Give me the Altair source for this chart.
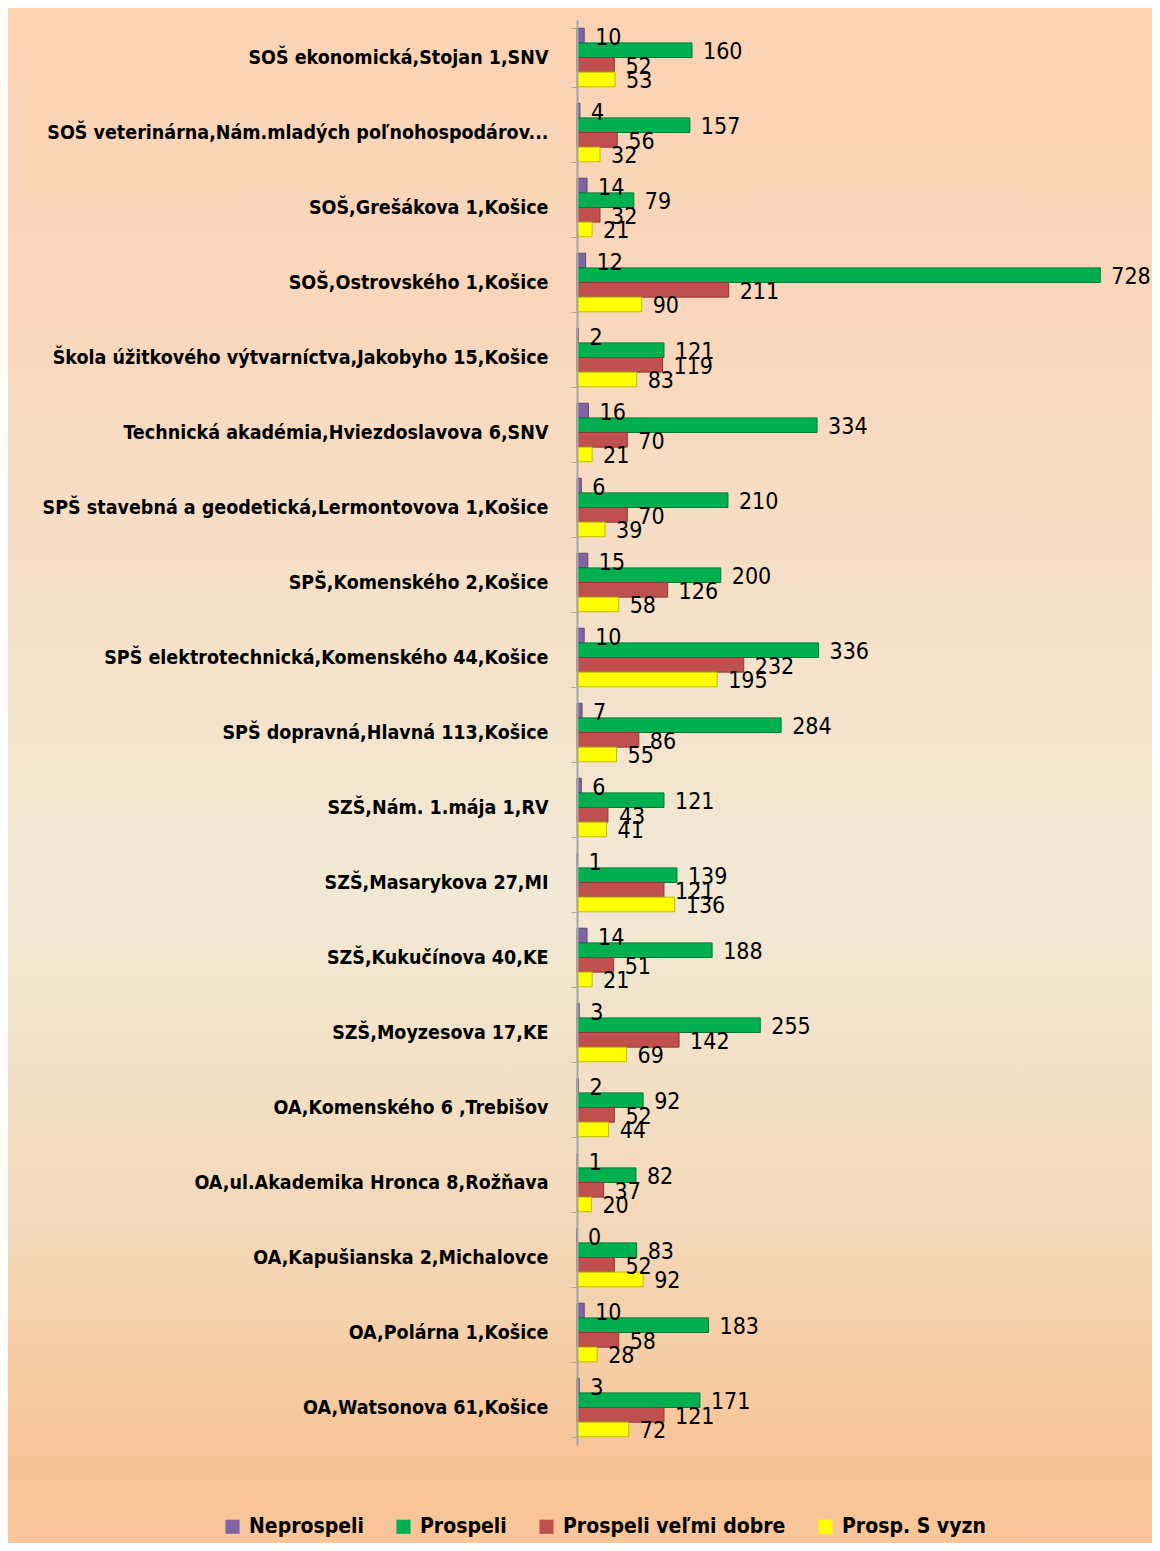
import altair as alt
import pandas as pd

categories = [
    "SOŠ ekonomická,Stojan 1,SNV",
    "SOŠ veterinárna,Nám.mladých poľnohospodárov...",
    "SOŠ,Grešákova 1,Košice",
    "SOŠ,Ostrovského 1,Košice",
    "Škola úžitkového výtvarníctva,Jakobyho 15,Košice",
    "Technická akadémia,Hviezdoslavova 6,SNV",
    "SPŠ stavebná a geodetická,Lermontovova 1,Košice",
    "SPŠ,Komenského 2,Košice",
    "SPŠ elektrotechnická,Komenského 44,Košice",
    "SPŠ dopravná,Hlavná 113,Košice",
    "SZŠ,Nám. 1.mája 1,RV",
    "SZŠ,Masarykova 27,MI",
    "SZŠ,Kukučínova 40,KE",
    "SZŠ,Moyzesova 17,KE",
    "OA,Komenského 6 ,Trebišov",
    "OA,ul.Akademika Hronca 8,Rožňava",
    "OA,Kapušianska 2,Michalovce",
    "OA,Polárna 1,Košice",
    "OA,Watsonova 61,Košice",
]
series = ["Neprospeli", "Prospeli", "Prospeli veľmi dobre", "Prosp. S vyzn"]
neprospeli = [10, 4, 14, 12, 2, 16, 6, 15, 10, 7, 6, 1, 14, 3, 2, 1, 0, 10, 3]
prospeli = [160, 157, 79, 728, 121, 334, 210, 200, 336, 284, 121, 139, 188, 255, 92, 82, 83, 183, 171]
velmi_dobre = [52, 56, 32, 211, 119, 70, 70, 126, 232, 86, 43, 121, 51, 142, 52, 37, 52, 58, 121]
s_vyzn = [53, 32, 21, 90, 83, 21, 39, 58, 195, 55, 41, 136, 21, 69, 44, 20, 92, 28, 72]

colors = ["#8064A2", "#00B050", "#C0504D", "#FFFF00"]
dark = ["#5F497A", "#007A37", "#8E3B39", "#BFBF00"]

rows = []
for i, cat in enumerate(categories):
    for s, vals in zip(series, [neprospeli, prospeli, velmi_dobre, s_vyzn]):
        rows.append({"skola": cat, "serie": s, "pocet": vals[i]})
df = pd.DataFrame(rows)

W = 575
H = 1425
PAD_L, PAD_T, PAD_B = 569, 12, 98
FONT = "'DejaVu Sans Condensed', 'Liberation Sans Narrow', sans-serif"

bg = alt.Chart(df).mark_rect(
    fill=alt.LinearGradient(
        gradient="linear", x1=0, x2=0, y1=0, y2=1,
        stops=[
            alt.GradientStop(offset=0.0, color="#FAD3B4"),
            alt.GradientStop(offset=0.18, color="#F9D6BA"),
            alt.GradientStop(offset=0.58, color="#F1E9D5"),
            alt.GradientStop(offset=0.80, color="#F3D8B8"),
            alt.GradientStop(offset=0.95, color="#F7C396"),
            alt.GradientStop(offset=1.0, color="#F8C69A"),
        ],
    )
).encode(
    x=alt.value(-PAD_L), x2=alt.value(W),
    y=alt.value(-PAD_T), y2=alt.value(H + PAD_B),
)

ysc = alt.Scale(paddingInner=0.22, paddingOuter=0.11)
xsc = alt.Scale(domain=[0, 800], nice=False, zero=True)

bars = alt.Chart(df).mark_bar(strokeWidth=1).encode(
    y=alt.Y("skola:N", sort=categories, scale=ysc,
            axis=alt.Axis(title=None, labelFont=FONT, labelFontSize=19.5, labelFontWeight="bold",
                          labelColor="#000000", labelPadding=23, labelLimit=700,
                          domainColor="#A6A6A6", domainWidth=2, tickColor="#A6A6A6",
                          tickSize=6, ticks=True, tickBand="extent", zindex=2)),
    x=alt.X("pocet:Q", scale=xsc, axis=None),
    yOffset=alt.YOffset("serie:N", sort=series),
    color=alt.Color("serie:N", sort=series, scale=alt.Scale(domain=series, range=colors),
                    legend=alt.Legend(title=None, orient="none", direction="horizontal",
                                      legendX=-355, legendY=1496, columns=4,
                                      symbolType="square", symbolSize=200, symbolStrokeWidth=0,
                                      labelFont=FONT, labelFontSize=21, labelFontWeight="bold",
                                      labelColor="#000000", labelOffset=6, columnPadding=29,
                                      labelLimit=400, padding=0, zindex=2)),
    stroke=alt.Stroke("serie:N", sort=series, scale=alt.Scale(domain=series, range=dark), legend=None),
)

labels = alt.Chart(df).mark_text(
    align="left", baseline="middle", dx=11, dy=2, font=FONT, fontSize=23, color="#000000"
).encode(
    y=alt.Y("skola:N", sort=categories, scale=ysc),
    x=alt.X("pocet:Q", scale=xsc),
    yOffset=alt.YOffset("serie:N", sort=series),
    text=alt.Text("pocet:Q"),
)

chart = alt.layer(bg, bars, labels).properties(
    width=W, height=H,
    autosize=alt.AutoSizeParams(type="none"),
    padding={"left": PAD_L, "top": PAD_T, "right": 0, "bottom": PAD_B},
).configure(background="#F8C69A").configure_view(stroke=None)

chart.save("out.html", embed_options={"renderer": "svg", "actions": False})
